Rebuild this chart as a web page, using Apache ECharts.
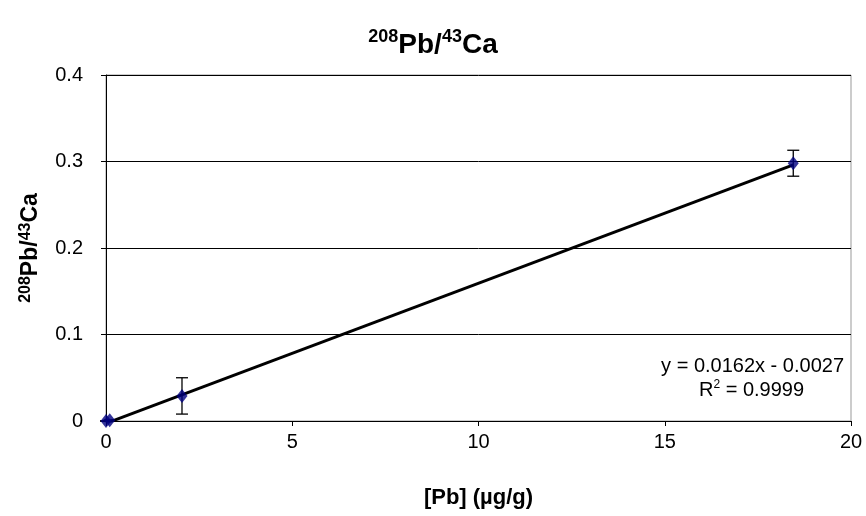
<!DOCTYPE html>
<html>
<head>
<meta charset="utf-8">
<script src="https://cdn.jsdelivr.net/npm/echarts@6/dist/echarts.min.js"></script>
<style>
html, body { margin: 0; padding: 0; background: #fff; }
#chart { width: 866px; height: 516px; }
</style>
</head>
<body>
<div id="chart"></div>
<script>
// calibration standards
const concentrations = [0, 0.1, 2.04, 18.45]
const ratios = [0, 0.001, 0.029, 0.298]
const errors = [0, 0, 0.021, 0.015]
const xTicks = [0, 5, 10, 15, 20]
const yTicks = [0, 0.1, 0.2, 0.3, 0.4]
// linear trendline shown on the chart
const slope = 0.0162
const intercept = -0.0027
const r2 = 0.9999

const font = 'Liberation Sans, Arial, sans-serif'

let points = concentrations.map((x, i) => [x, ratios[i]])
let bars = concentrations.map((x, i) => [x, ratios[i] - errors[i], ratios[i] + errors[i]])
let xMin = Math.min(...concentrations)
let xMax = Math.max(...concentrations)
let trend = [[xMin, slope * xMin + intercept], [xMax, slope * xMax + intercept]]

let chart = echarts.init(document.getElementById('chart'))
let option = {
    animation: false,
    backgroundColor: '#fff',
    title: {
        text: '{sup|208}{main|Pb/}{sup|43}{main|Ca}',
        left: 'center',
        top: 23,
        textStyle: {
            rich: {
                main: { fontFamily: font, fontWeight: 'bold', fontSize: 28, lineHeight: 34, color: '#000' },
                sup: { fontFamily: font, fontWeight: 'bold', fontSize: 18, lineHeight: 34, verticalAlign: 'top', color: '#000' }
            }
        }
    },
    grid: { left: 106, right: 15, top: 75, bottom: 95, show: true, borderColor: '#999', borderWidth: 1 },
    xAxis: {
        type: 'value',
        min: xTicks[0],
        max: xTicks[xTicks.length - 1],
        interval: 5,
        name: '[Pb] (µg/g)',
        nameLocation: 'middle',
        nameGap: 66,
        nameTextStyle: { fontFamily: font, fontWeight: 'bold', fontSize: 22, color: '#000' },
        axisLine: { lineStyle: { color: '#000', width: 1 } },
        axisTick: { show: true, inside: false, length: 5, lineStyle: { color: '#000' } },
        axisLabel: { fontFamily: font, fontSize: 20, color: '#000', margin: 11 },
        splitLine: { show: false }
    },
    yAxis: {
        type: 'value',
        min: yTicks[0],
        max: yTicks[yTicks.length - 1],
        interval: 0.1,
        name: '{sup|208}{main|Pb/}{sup|43}{main|Ca}',
        nameLocation: 'middle',
        nameRotate: 90,
        nameGap: 62,
        nameTextStyle: {
            rich: {
                main: { fontFamily: font, fontWeight: 'bold', fontSize: 23, lineHeight: 26, color: '#000' },
                sup: { fontFamily: font, fontWeight: 'bold', fontSize: 16, lineHeight: 26, verticalAlign: 'top', color: '#000' }
            }
        },
        axisLine: { show: true, lineStyle: { color: '#000', width: 1 } },
        axisTick: { show: true, inside: false, length: 5, lineStyle: { color: '#000' } },
        axisLabel: { fontFamily: font, fontSize: 20, color: '#000', margin: 23 },
        splitLine: { show: true, lineStyle: { color: '#000', width: 1 } }
    },
    series: [
        {
            type: 'line',
            data: trend,
            symbol: 'none',
            lineStyle: { color: '#000', width: 3 },
            z: 2
        },
        {
            type: 'custom',
            data: bars,
            z: 3,
            renderItem: function(params, api) {
                let top = api.coord([api.value(0), api.value(2)])
                let bottom = api.coord([api.value(0), api.value(1)])
                let half = 6
                let style = { stroke: '#000', lineWidth: 1.3 }
                return {
                    type: 'group',
                    children: [
                        { type: 'line', shape: { x1: top[0], y1: top[1], x2: bottom[0], y2: bottom[1] }, style: style },
                        { type: 'line', shape: { x1: top[0] - half, y1: top[1], x2: top[0] + half, y2: top[1] }, style: style },
                        { type: 'line', shape: { x1: bottom[0] - half, y1: bottom[1], x2: bottom[0] + half, y2: bottom[1] }, style: style }
                    ]
                }
            }
        },
        {
            type: 'scatter',
            data: points,
            symbol: 'diamond',
            symbolSize: [11, 14],
            itemStyle: { color: '#000080' },
            z: 4
        }
    ],
    graphic: [
        {
            type: 'text',
            right: 22,
            top: 356,
            style: {
                text: 'y = ' + slope.toFixed(4) + 'x - ' + Math.abs(intercept).toFixed(4),
                fontFamily: font,
                fontSize: 20,
                fill: '#000'
            }
        },
        {
            type: 'text',
            left: 699,
            top: 379,
            style: {
                text: '{a|R}{s|2}{a| = ' + r2.toFixed(4) + '}',
                rich: {
                    a: { fontFamily: font, fontSize: 20, lineHeight: 22, fill: '#000', color: '#000' },
                    s: { fontFamily: font, fontSize: 12, lineHeight: 22, verticalAlign: 'top', fill: '#000', color: '#000' }
                }
            }
        }
    ]
}
chart.setOption(option)
</script>
</body>
</html>
